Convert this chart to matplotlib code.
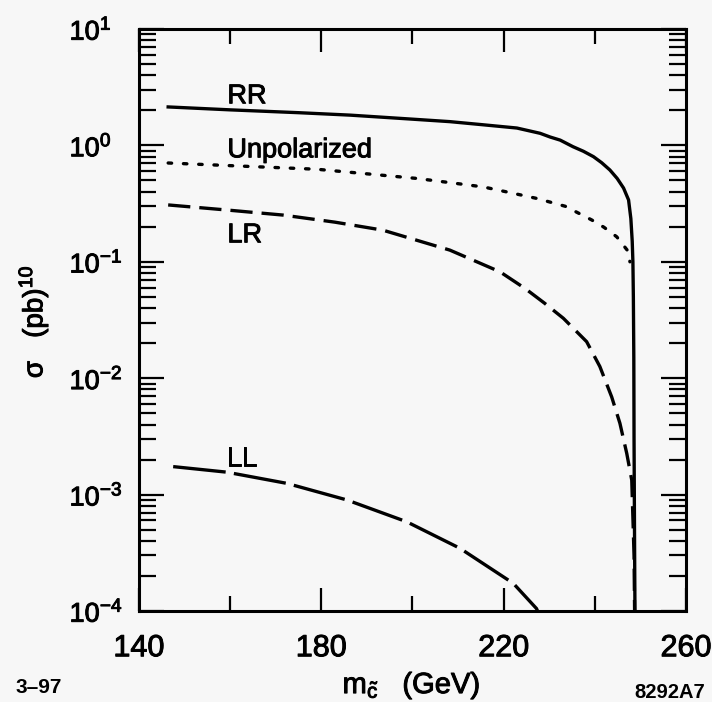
import matplotlib
matplotlib.use("Agg")
import matplotlib.pyplot as plt
import matplotlib.patheffects as pe
from matplotlib.ticker import FixedLocator, NullFormatter

plt.rcParams["font.family"] = ["Liberation Sans", "DejaVu Sans"]
plt.rcParams["mathtext.fontset"] = "custom"
plt.rcParams["mathtext.rm"] = "Liberation Sans"
plt.rcParams["mathtext.it"] = "Liberation Sans:italic"
plt.rcParams["mathtext.bf"] = "Liberation Sans:bold"
plt.rcParams["lines.scale_dashes"] = False

# values
mass_rr = [146.4, 160, 175, 186.3, 200, 208.2, 215, 222.9, 228, 230.2, 232.4, 235.2,
           237.5, 239.7, 241.5, 243.3, 244.9, 246.3, 247.4, 247.9, 248.2, 248.35,
           248.45, 248.55, 248.6, 248.7, 248.8, 248.85]
sigma_rr = [2.14, 2.02, 1.91, 1.82, 1.68, 1.60, 1.51, 1.41, 1.27, 1.18, 1.11, 0.975,
            0.89, 0.80, 0.71, 0.615, 0.52, 0.43, 0.34, 0.235, 0.150, 0.10,
            0.05, 0.015, 3e-3, 5e-4, 1e-4, 5e-5]

mass_unpol = [146.4, 160, 179.0, 190, 201.0, 208, 215.5, 221, 227.3, 233.5, 239.3,
              242, 244.8, 247.1, 247.7]
sigma_unpol = [0.706, 0.67, 0.624, 0.57, 0.52, 0.48, 0.44, 0.396, 0.35, 0.30, 0.229,
               0.198, 0.164, 0.126, 0.10]

mass_lr = [146.4, 160, 171.6, 183, 193.5, 208.2, 219.2, 224.7, 229, 233.1, 238.2,
           241.1, 243.7, 245.5, 247.0, 248.1, 248.6, 248.8]
sigma_lr = [0.308, 0.277, 0.252, 0.219, 0.187, 0.126, 0.082, 0.059, 0.044, 0.0327,
            0.0206, 0.0126, 0.0069, 0.0041, 0.00226, 0.00133, 3e-4, 5e-5]

mass_ll = [147.5, 159.2, 172.4, 185.6, 198.7, 210.4, 222.1, 227.2, 228.5]
sigma_ll = [1.74e-3, 1.56e-3, 1.25e-3, 9.0e-4, 5.85e-4, 3.46e-4, 1.73e-4, 1.05e-4, 8e-5]

x_ticks = [140, 180, 220, 260]
x_minor_ticks = [160, 200, 240]
y_ticks = [1e-4, 1e-3, 1e-2, 1e-1, 1e0, 1e1]
y_tick_labels = [r"$10^{-4}$", r"$10^{-3}$", r"$10^{-2}$", r"$10^{-1}$", r"$10^{0}$", r"$10^{1}$"]
y_minor_ticks = [m * 10.0 ** e for e in range(-4, 1) for m in range(2, 10)]

bg = "#f7f7f7"
ink = [pe.withStroke(linewidth=0.7, foreground="black")]

fig = plt.figure(figsize=(7.12, 7.02), dpi=100, facecolor=bg)
ax = fig.add_axes([0.1952, 0.1296, 0.7683, 0.8291], facecolor=bg)
ax.set_yscale("log")
ax.set_xlim(140, 260)
ax.set_ylim(1e-4, 1e1)

lw = 2.4
ax.plot(mass_rr, sigma_rr, color="black", lw=lw)
ax.plot(mass_unpol, sigma_unpol, color="black", lw=lw, dashes=(2.5, 8.5), dash_capstyle="round")
ax.plot(mass_lr, sigma_lr, color="black", lw=lw, dashes=(16, 6.5))
ax.plot(mass_ll, sigma_ll, color="black", lw=lw, dashes=(38, 6))

# curve labels
for x, y, name in [(159.4, 2.30, "RR"), (159.4, 0.79, "Unpolarized"),
                   (159.4, 0.147, "LR"), (159.2, 1.77e-3, "LL")]:
    ax.text(x, y, name, fontsize=19.5, va="baseline", path_effects=ink)

# axes and ticks
for s in ax.spines.values():
    s.set_linewidth(2.2)
ax.xaxis.set_major_locator(FixedLocator(x_ticks))
ax.xaxis.set_minor_locator(FixedLocator(x_minor_ticks))
ax.yaxis.set_major_locator(FixedLocator(y_ticks))
ax.yaxis.set_minor_locator(FixedLocator(y_minor_ticks))
ax.set_yticklabels(y_tick_labels, ha="left")
ax.yaxis.set_minor_formatter(NullFormatter())

ax.tick_params(axis="y", which="major", direction="in", length=18, width=1.6,
               left=True, right=True, labelsize=19.5, pad=50)
ax.tick_params(axis="y", which="minor", direction="in", length=12.5, width=1.6,
               left=True, right=True)
ax.tick_params(axis="x", which="major", direction="in", length=16.5, width=1.6,
               top=True, bottom=True, labelsize=22, pad=16)
ax.tick_params(axis="x", which="minor", direction="in", length=11, width=1.6,
               top=True, bottom=True)
for lab in ax.get_xticklabels() + ax.get_yticklabels():
    lab.set_path_effects(ink)

ax.set_xlabel(r"$\mathrm{m}_{\tilde{\mathrm{c}}}$   (GeV)", fontsize=21, path_effects=ink)
ax.xaxis.set_label_coords(0.498, -0.100)
ax.set_ylabel("σ   (pb)$^{10}$", fontsize=20, path_effects=ink)
ax.yaxis.set_label_coords(-0.162, 0.497)

fig.text(15 / 712, 1 - 693 / 702, "3–97", fontsize=15, fontweight="bold", va="baseline")
fig.text(705 / 712, 1 - 698 / 702, "8292A7", fontsize=14.5, fontweight="bold",
         ha="right", va="baseline")

fig.savefig("out.png", dpi=100, facecolor=bg)
